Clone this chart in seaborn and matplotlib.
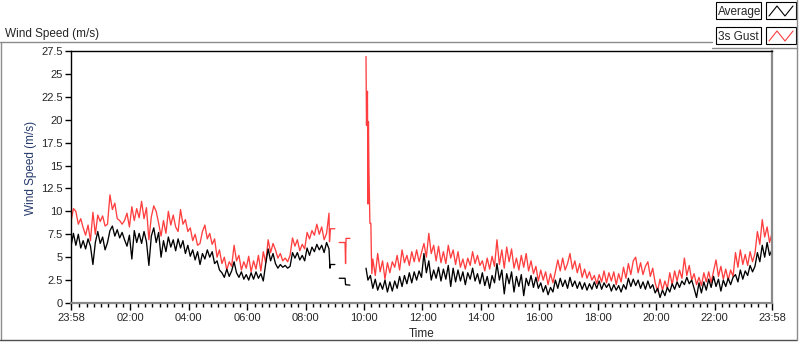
import numpy as np
import pandas as pd
import seaborn as sns
import matplotlib.pyplot as plt
from matplotlib.lines import Line2D
from matplotlib.patches import Rectangle

# time in minutes after 23:58 (start of record)
seg_a_t = np.arange(0, 531, 5)

gust_a = [8.9, 10.3, 10.0, 8.6, 9.2, 8.2, 7.4, 8.5, 6.8, 9.9,
          7.5, 9.6, 8.9, 9.5, 8.4, 8.6, 11.8, 10.2, 10.9, 9.2,
          9.0, 8.6, 9.0, 9.8, 8.3, 10.5, 9.0, 10.3, 9.3, 11.1,
          9.2, 10.4, 6.9, 9.4, 10.6, 10.0, 8.7, 7.3, 9.0, 7.6,
          10.0, 8.5, 9.6, 8.3, 7.8, 10.2, 8.6, 9.1, 7.8, 8.2,
          6.8, 7.5, 6.3,
          6.5, 7.8, 8.5, 7.0, 7.6, 6.4, 7.0, 5.0, 5.8, 4.3,
          5.0, 3.6, 4.5, 4.0, 6.3, 4.6, 5.2, 3.6, 4.5, 3.8,
          5.1, 3.4, 4.6, 3.7, 5.2, 3.5, 5.6, 4.4, 6.9, 5.5,
          6.5, 5.8, 4.9, 5.4, 4.6, 4.9, 4.5, 5.2, 7.1, 6.2,
          6.9, 5.7, 6.4, 5.9, 7.7, 7.0, 7.9, 7.4, 8.6, 7.5,
          8.3, 6.9, 7.6, 9.8]

avg_a = [6.2, 7.6, 6.3, 7.5, 6.0, 6.8, 5.9, 7.0, 6.2, 4.2,
         6.6, 7.8, 6.5, 7.2, 5.8, 6.6, 7.9, 8.4, 7.3, 8.0,
         7.1, 7.7, 6.9, 6.2, 7.4, 4.8, 7.9, 6.6, 7.6, 6.5,
         7.8, 6.7, 4.1, 7.3, 8.2, 6.6, 7.7, 5.0, 6.8, 5.6,
         7.2, 6.1, 6.9, 5.7, 7.0, 6.0, 6.8, 5.4, 6.3, 5.1,
         5.8, 4.7, 5.6,
         4.2, 5.4, 4.8, 5.8, 5.0, 5.6, 4.3, 4.6, 3.6, 3.3,
         2.8, 3.7, 2.9, 3.5, 4.5, 3.3, 2.8, 3.4, 2.6, 3.1,
         2.5, 3.3, 2.6, 3.4, 2.7, 3.2, 2.4, 4.3, 5.9, 4.6,
         5.4, 4.3, 3.8, 4.2, 3.9, 4.1, 3.8, 4.0, 5.5, 4.9,
         5.5, 4.7, 5.2, 4.6, 6.0, 5.2, 6.1, 5.6, 6.4, 5.8,
         6.3, 5.5, 6.6, 5.9]

# flat bits at the end of the first block
gust_tail_t = [531, 533, 542]
gust_tail = [6.7, 8.1, 8.1]
avg_tail_t = [532, 533, 542]
avg_tail = [3.8, 4.2, 4.2]

# short block around 09:10
gust_b_t = [551, 563, 564, 565, 573]
gust_b = [6.6, 6.6, 4.3, 7.05, 7.05]
avg_b_t = [551, 563, 564, 573]
avg_b = [2.7, 2.7, 2.0, 1.95]

# gust spike at ~10:04
spike_t = [606, 607, 609, 610, 611, 612, 614, 616, 617, 618]
spike = [26.9, 19.4, 23.1, 10.8, 19.8, 14.7, 8.7, 8.7, 5.4, 3.2]

gust_c_t = np.arange(620, 1441, 5)
gust_c = [4.8, 3.0, 5.4, 3.4, 4.6, 2.6, 4.4, 3.3, 4.5, 3.9,
          5.2, 3.6, 5.8, 4.4, 5.2, 4.1, 5.6, 4.5, 5.8, 4.5,
          5.5, 6.5, 5.0, 7.6, 5.4, 6.3, 4.6, 6.2, 4.4, 5.6,
          4.3, 6.3, 4.9, 5.8, 4.2, 5.6, 3.9, 4.8, 3.7, 4.9,
          4.1, 5.6, 4.3, 5.2, 4.1, 4.6, 3.5, 4.9, 3.7, 5.1,
          4.0, 6.9, 4.2, 5.8, 3.8, 6.1, 4.5, 5.9, 3.8, 4.9,
          3.6, 5.2, 3.9, 5.4, 3.5, 4.6, 3.2, 4.0, 2.4, 3.6,
          2.5, 3.4, 2.0, 3.2, 2.2, 3.4, 4.7, 3.5, 4.9, 3.6,
          4.3, 5.4, 3.7, 4.6, 3.3, 4.3, 2.8, 3.7, 2.7, 3.4,
          2.5, 3.0, 2.1, 3.1, 2.3, 3.5, 2.2, 3.3, 2.4, 3.4,
          2.0, 3.2, 2.3, 3.9, 2.7, 4.3, 3.1, 4.6, 5.0, 3.3,
          4.4, 3.1, 4.0, 4.5, 2.9, 3.8, 2.2, 1.3, 2.6, 1.4,
          2.4, 1.6, 3.3, 2.0, 3.5, 2.4, 3.6, 2.7, 4.9, 3.0,
          4.1, 2.5, 3.2, 2.0, 2.8, 1.9, 3.3, 2.3, 3.4, 2.2,
          3.5, 4.7, 2.9, 4.0, 2.6, 3.7, 2.5, 3.6, 2.9, 5.5,
          3.9, 5.8, 4.2, 5.3, 4.1, 5.6, 4.5, 5.4, 7.8, 6.4,
          9.1, 7.2, 8.3, 6.6, 7.6]

avg_c_t = np.concatenate([[606], np.arange(610, 1441, 5)])
avg_c = [3.8,
         2.5, 3.0, 1.6, 2.6, 1.4, 2.2,
         1.5, 2.5, 1.2, 2.3, 1.3, 2.4, 1.6, 2.9, 1.8, 3.0,
         2.1, 3.3, 2.2, 3.4, 2.5, 3.5, 2.8, 5.4, 3.3, 4.6,
         2.5, 3.6, 2.7, 3.9, 2.4, 3.7, 2.6, 4.1, 1.8, 3.8,
         2.3, 3.6, 2.4, 3.4, 2.0, 3.3, 2.6, 3.8, 2.4, 3.2,
         2.1, 3.3, 1.9, 2.9, 1.6, 3.0, 2.2, 4.3, 2.5, 3.6,
         1.0, 3.2, 2.1, 3.4, 1.2, 2.9, 1.8, 3.1, 0.8, 2.7,
         1.9, 3.0, 1.7, 2.8, 1.6, 2.2, 1.2, 1.9, 0.9, 1.7,
         1.2, 2.5, 1.6, 2.7, 1.8, 2.5, 1.6, 2.8, 1.8, 2.4,
         1.6, 2.3, 1.5, 2.2, 1.4, 2.1, 1.5, 2.3, 1.6, 2.4,
         1.5, 2.2, 1.7, 2.1, 1.3, 2.0, 1.4, 1.9, 1.2, 2.0,
         1.5, 2.7, 1.8, 2.6, 1.9, 2.5, 1.6, 2.3, 1.5, 2.4,
         1.6, 2.0, 1.1, 1.6, 0.6, 1.4, 0.8, 1.7, 1.2, 2.1,
         1.5, 2.3, 1.7, 2.4, 2.0, 2.8, 2.1, 2.5, 1.6, 0.6,
         2.2, 1.1, 2.3, 1.4, 2.6, 1.7, 2.9, 1.8, 2.6, 1.3,
         2.5, 1.8, 2.7, 2.0, 2.8, 3.1, 2.3, 3.6, 2.6, 3.5,
         3.0, 4.1, 3.4, 4.0, 5.5, 4.5, 6.3, 5.0, 6.6, 5.2,
         5.8]

x_tick_labels = ["23:58", "02:00", "04:00", "06:00", "08:00", "10:00", "12:00",
                 "14:00", "16:00", "18:00", "20:00", "22:00", "23:58"]
y_ticks = [0, 2.5, 5, 7.5, 10, 12.5, 15, 17.5, 20, 22.5, 25, 27.5]
y_tick_labels = ["0", "2.5", "5", "7.5", "10", "12.5", "15", "17.5", "20", "22.5", "25", "27.5"]


def make_frame(name, pieces):
    rows = []
    for i, (t, v) in enumerate(pieces):
        rows.append(pd.DataFrame({"t": t, "v": v, "seg": i, "series": name}))
    return pd.concat(rows, ignore_index=True)


gust_df = make_frame("3s Gust", [
    (np.concatenate([seg_a_t, gust_tail_t]), gust_a + gust_tail),
    (gust_b_t, gust_b),
    (np.concatenate([spike_t, gust_c_t]), spike + gust_c),
])
avg_df = make_frame("Average", [
    (np.concatenate([seg_a_t, avg_tail_t]), avg_a + avg_tail),
    (avg_b_t, avg_b),
    (avg_c_t, avg_c),
])

sns.set_style("white")
plt.rcParams["font.family"] = ["Liberation Sans", "DejaVu Sans"]

W, H = 800, 342
fig = plt.figure(figsize=(W / 100, H / 100), dpi=100)


def fx(x):
    return x / W


def fy(y):
    return 1 - y / H


ax = fig.add_axes([fx(71), fy(303), (772 - 71) / W, (303 - 51) / H])

red = "#ff3f3f"
sns.lineplot(data=gust_df, x="t", y="v", units="seg", estimator=None,
             color=red, lw=0.95, ax=ax, legend=False)
sns.lineplot(data=avg_df, x="t", y="v", units="seg", estimator=None,
             color="black", lw=0.95, ax=ax, legend=False)

ax.set_xlim(0, 1440)
ax.set_ylim(0, 27.5)

# tick positions from the labels
def to_min(lbl):
    h, m = lbl.split(":")
    return (int(h) * 60 + int(m) + 2) % 1440

x_pos = [to_min(l) for l in x_tick_labels]
x_pos[-1] = 1440
ax.set_xticks(x_pos)
ax.set_xticklabels(x_tick_labels)
minor = [m for m in range(17, 1440, 15) if m not in x_pos]
ax.set_xticks(minor, minor=True)
ax.set_yticks(y_ticks)
ax.set_yticklabels(y_tick_labels)

ax.tick_params(axis="both", which="major", direction="out", length=4, width=1,
               color="black", labelsize=8, pad=2, bottom=True, left=True)
ax.tick_params(axis="x", which="minor", direction="out", length=3, width=1,
               color="black", bottom=True)
ax.tick_params(axis="x", which="major", length=5)

for s in ["top", "left"]:
    ax.spines[s].set_color("black")
    ax.spines[s].set_linewidth(1)
for s in ["bottom", "right"]:
    ax.spines[s].set_color("#8a8a8a")
    ax.spines[s].set_linewidth(1.6)

ax.set_xlabel("Time", fontsize=8.5)
ax.xaxis.set_label_coords(0.5, -0.098)
ax.set_ylabel("Wind Speed (m/s)", fontsize=8.5, color="#263a6b")
ax.yaxis.set_label_coords(-0.048, 0.534)

# frame around the graph
gray = "#8c8c8c"
for (x0, y0, x1, y1, c) in [(0, 42, 712, 42, gray), (0.5, 42, 0.5, 340, gray),
                            (0, 339.5, 797, 339.5, "#505050"), (797, 0, 797, 340, gray),
                            (712, 47.5, 797, 47.5, gray)]:
    fig.add_artist(Line2D([fx(x0), fx(x1)], [fy(y0), fy(y1)], color=c, lw=1,
                          transform=fig.transFigure))

fig.text(fx(5), fy(37), "Wind Speed (m/s)", fontsize=8.5, va="baseline", ha="left")

# legend boxes
for name, col, top in [("Average", "black", 2), ("3s Gust", red, 27)]:
    fig.add_artist(Rectangle((fx(716), fy(top + 17)), 45 / W, 17 / H, fill=True,
                             facecolor="white", edgecolor="black", lw=0.8,
                             transform=fig.transFigure))
    fig.text(fx(718), fy(top + 13), name, fontsize=8.5, va="baseline", ha="left")
    fig.add_artist(Rectangle((fx(766), fy(top + 17)), 30 / W, 17 / H, fill=True,
                             facecolor="white", edgecolor="black", lw=0.8,
                             transform=fig.transFigure))
    zx = [769, 777, 785, 793]
    zy = [top + 14, top + 4, top + 14, top + 4]
    fig.add_artist(Line2D([fx(v) for v in zx], [fy(v) for v in zy], color=col,
                          lw=0.8, transform=fig.transFigure))

fig.savefig("out.png", dpi=100)
